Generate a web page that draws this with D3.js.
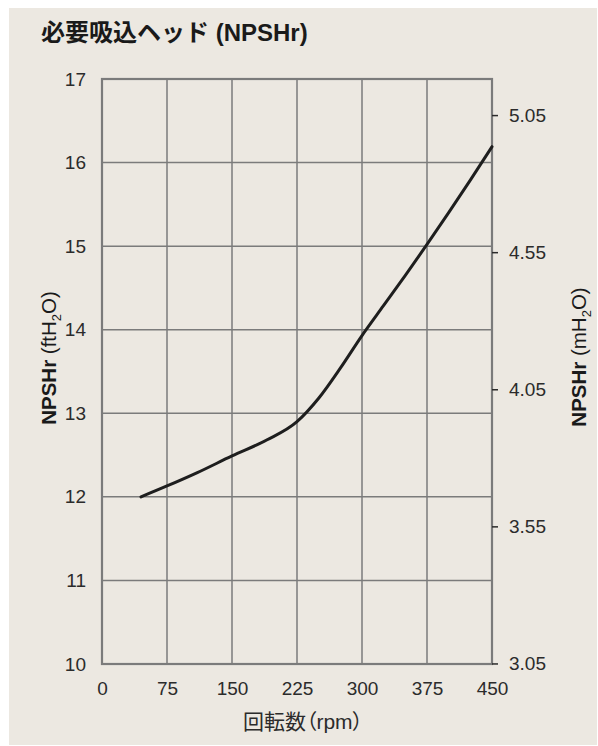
<!DOCTYPE html>
<html>
<head>
<meta charset="utf-8">
<script src="https://cdn.jsdelivr.net/npm/d3@7"></script>
<style>
  html, body { margin: 0; padding: 0; background: #fff; }
  svg { display: block; }
  text { font-family: "Liberation Sans", Arial, "Noto Sans CJK JP", sans-serif; fill: #2b2b2b; }
  .jp { font-family: "Liberation Sans", "Noto Sans CJK JP", sans-serif; }
  .palt { font-feature-settings: "palt"; }
</style>
</head>
<body>
<div id="chart"></div>
<script>
// data
const rpm = [45, 75, 110, 150, 190, 225, 250, 275, 300, 325, 350, 375, 400, 425, 450];
const npshFt = [12.0, 12.13, 12.29, 12.49, 12.68, 12.9, 13.18, 13.54, 13.93, 14.29, 14.65, 15.02, 15.40, 15.79, 16.19];
const xTicks = [0, 75, 150, 225, 300, 375, 450];
const yTicksFt = [10, 11, 12, 13, 14, 15, 16, 17];
const yTicksM = [3.05, 3.55, 4.05, 4.55, 5.05];

const W = 598, H = 746;
const margin = { top: 79, right: 106, bottom: 82, left: 102 };
const width = W - margin.left - margin.right;
const height = H - margin.top - margin.bottom;

const svg = d3.select("#chart").append("svg")
  .attr("width", W).attr("height", H);

svg.append("rect")
  .attr("x", 9).attr("y", 8).attr("width", 588).attr("height", 737)
  .attr("fill", "#ece8e1");

svg.append("text")
  .attr("class", "jp")
  .attr("x", 41).attr("y", 41)
  .attr("font-size", 24).attr("font-weight", "bold")
  .style("fill", "#1a1a1a")
  .text("必要吸込ヘッド (NPSHr)");

const g = svg.append("g").attr("transform", `translate(${margin.left},${margin.top})`);

const x = d3.scaleLinear().domain([0, 450]).range([0, width]);
const y = d3.scaleLinear().domain([10, 17]).range([height, 0]);
const yM = d3.scaleLinear().domain([10 * 0.3048, 17 * 0.3048]).range([height, 0]);

const gridColor = "#7b7b7b";

// grid
g.append("g").selectAll("line.v").data(xTicks.slice(1, -1)).join("line")
  .attr("x1", d => x(d)).attr("x2", d => x(d))
  .attr("y1", 0).attr("y2", height)
  .attr("stroke", gridColor).attr("stroke-width", 1.5);

g.append("g").selectAll("line.h").data(yTicksFt.slice(1, -1)).join("line")
  .attr("x1", 0).attr("x2", width)
  .attr("y1", d => y(d)).attr("y2", d => y(d))
  .attr("stroke", gridColor).attr("stroke-width", 1.5);

// frame
g.append("rect")
  .attr("x", 0).attr("y", 0).attr("width", width).attr("height", height)
  .attr("fill", "none").attr("stroke", gridColor).attr("stroke-width", 2.2);

const tickFont = sel => sel.selectAll("text").attr("font-size", 19)
  .style("font-family", "Liberation Sans, Arial, sans-serif").style("fill", "#2b2b2b");

// left axis labels
const left = g.append("g").call(d3.axisLeft(y).tickValues(yTicksFt).tickSize(0).tickPadding(16).tickFormat(d3.format("d")));
left.select(".domain").remove();
tickFont(left);

// bottom axis labels
const bottom = g.append("g").attr("transform", `translate(0,${height})`)
  .call(d3.axisBottom(x).tickValues(xTicks).tickSize(0).tickPadding(18));
bottom.select(".domain").remove();
tickFont(bottom);

// right axis
const right = g.append("g").attr("transform", `translate(${width},0)`)
  .call(d3.axisRight(yM).tickValues(yTicksM).tickSize(6).tickPadding(11).tickFormat(d3.format(".2f")));
right.select(".domain").remove();
right.selectAll("line").attr("stroke", "#2b2b2b").attr("stroke-width", 1.5);
tickFont(right);

// curve
const pts = rpm.map((r, i) => [r, npshFt[i]]);
g.append("path")
  .datum(pts)
  .attr("fill", "none")
  .attr("stroke", "#1e1e1e")
  .attr("stroke-width", 3)
  .attr("stroke-linecap", "round")
  .attr("d", d3.line().x(d => x(d[0])).y(d => y(d[1])).curve(d3.curveMonotoneX));

// axis titles
function yTitle(cx, cy, unit) {
  const t = svg.append("text")
    .attr("transform", `translate(${cx},${cy}) rotate(-90)`)
    .attr("text-anchor", "middle")
    .attr("font-size", 20.5)
    .style("fill", "#1a1a1a");
  t.append("tspan").attr("font-weight", "bold").text("NPSHr");
  t.append("tspan").text(` (${unit}H`);
  t.append("tspan").attr("font-size", 13).attr("dy", 5).text("2");
  t.append("tspan").attr("dy", -5).text("O)");
}
yTitle(56, 358, "ft");
yTitle(586, 357, "m");

svg.append("text")
  .attr("class", "jp palt")
  .attr("x", 303).attr("y", 729)
  .attr("text-anchor", "middle")
  .attr("font-size", 21)
  .text("回転数（rpm）");
</script>
</body>
</html>
